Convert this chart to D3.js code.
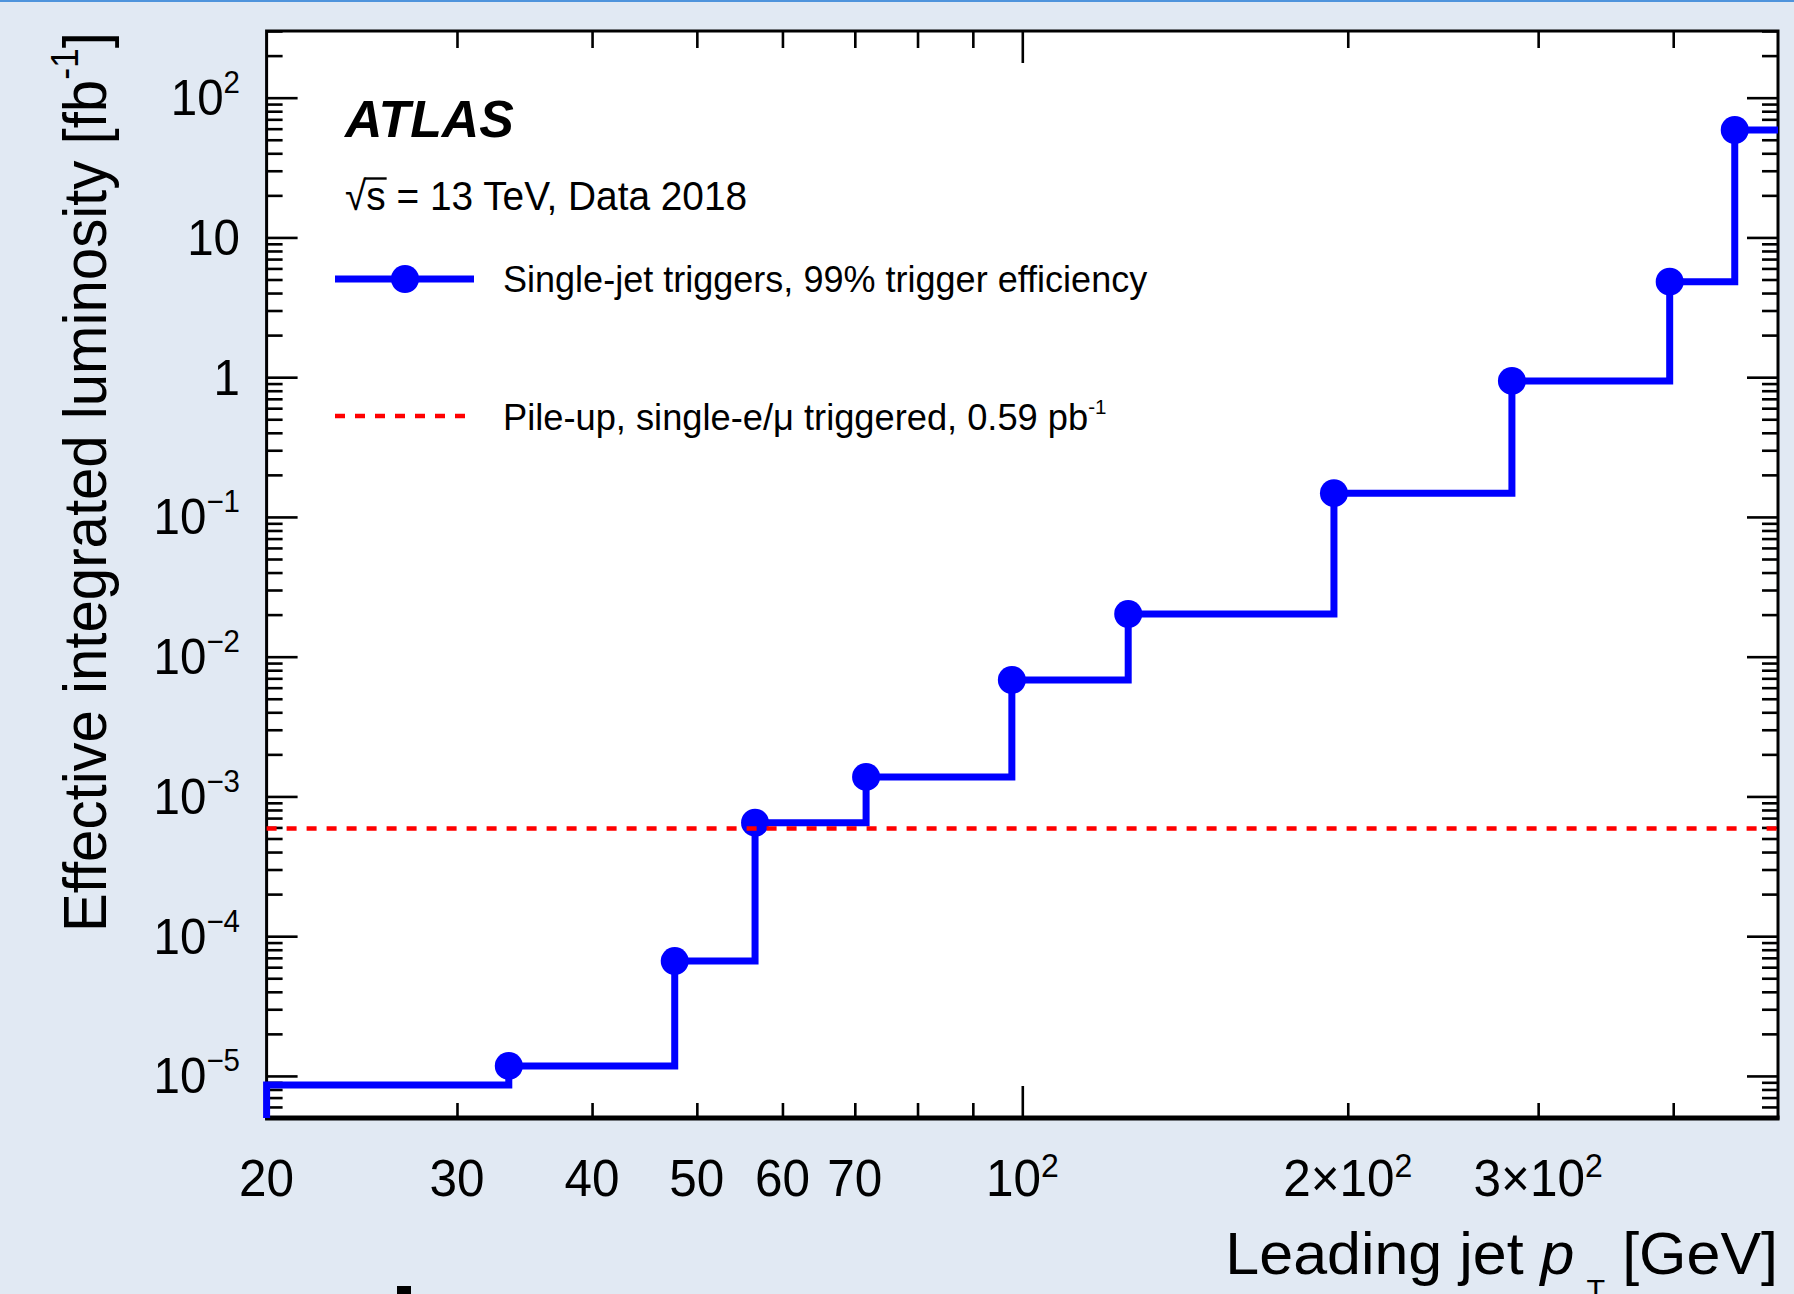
<!DOCTYPE html>
<html><head><meta charset="utf-8">
<script src="https://cdn.jsdelivr.net/npm/d3@7"></script>
<style>
html,body{margin:0;padding:0;background:#e1e9f3;overflow:hidden;}
svg{display:block;}
text{font-family:"Liberation Sans",Arial,Helvetica,sans-serif;fill:#000;}
</style></head><body>
<svg id="chart" width="1794" height="1294"></svg>
<script>
// ---------------- data ----------------
const xDomain = [20, 500];
const yDomain = [5e-6, 300];
const initialPt = 20;
const initialLumi = 8.6e-6;
const triggerPt   = [33.5, 47.7, 56.6, 71.7, 97.8, 125.3, 194.2, 283.7, 397, 456];
const triggerLumi = [1.18e-5, 6.64e-5, 6.49e-4, 1.38e-3, 6.81e-3, 2.02e-2, 0.148, 0.94, 4.82, 58.7];
const pileupLumi = 5.9e-4; // fb^-1  (0.59 pb^-1)
const xMinorTicks = [30, 40, 50, 60, 70, 80, 90, 200, 300, 400];
const xMajorTicks = [100];
const xTickLabelValues = [20, 30, 40, 50, 60, 70, 100, 200, 300];
const xTickLabelBase   = ["20", "30", "40", "50", "60", "70", "10", "2\u00d710", "3\u00d710"];
const xTickLabelSup    = ["", "", "", "", "", "", "2", "2", "2"];
const yTickLabelValues = [100, 10, 1, 0.1, 0.01, 0.001, 1e-4, 1e-5];
const yTickLabelBase   = ["10", "10", "1", "10", "10", "10", "10", "10"];
const yTickLabelSup    = ["2", "", "", "\u22121", "\u22122", "\u22123", "\u22124", "\u22125"];
const legendLabels = ["Single-jet triggers, 99% trigger efficiency", "Pile-up, single-e/\u03bc triggered, 0.59 pb"];

// ---------------- layout ----------------
const W = 1794, H = 1294;
const L = 266.6, R = 1778, T = 31, B = 1118;
const svg = d3.select("#chart");
svg.append("rect").attr("width", W).attr("height", H).attr("fill", "#e1e9f3");
svg.append("line").attr("x1", 0).attr("x2", W).attr("y1", 1).attr("y2", 1)
   .attr("stroke", "#4f94dc").attr("stroke-width", 2);
svg.append("rect").attr("x", L).attr("y", T).attr("width", R - L).attr("height", B - T).attr("fill", "#fff");

const x = d3.scaleLog().domain(xDomain).range([L, R]);
const y = d3.scaleLog().domain(yDomain).range([B, T]);

// y ticks
const yMajor = d3.range(-5, 3).map(e => Math.pow(10, e));
const yMinor = [];
for (let e = -6; e <= 2; e++) for (let m = 2; m <= 9; m++) {
  const v = m * Math.pow(10, e);
  if (v >= yDomain[0] * 0.999 && v <= yDomain[1] * 1.001) yMinor.push(v);
}
function tickAxis(axisFn, scale, vals, size, transform) {
  const g = svg.append("g").attr("transform", transform)
    .call(axisFn(scale).tickValues(vals).tickSize(size).tickFormat(""));
  g.select(".domain").remove();
  g.selectAll(".tick line").attr("stroke", "#000").attr("stroke-width", 2.6);
  return g;
}
tickAxis(d3.axisRight, y, yMajor, 31, `translate(${L},0)`);
tickAxis(d3.axisRight, y, yMinor, 16, `translate(${L},0)`);
tickAxis(d3.axisLeft, y, yMajor, 31, `translate(${R},0)`);
tickAxis(d3.axisLeft, y, yMinor, 16, `translate(${R},0)`);
tickAxis(d3.axisTop, x, xMinorTicks, 15, `translate(0,${B})`);
tickAxis(d3.axisTop, x, xMajorTicks, 32, `translate(0,${B})`);
tickAxis(d3.axisBottom, x, xMinorTicks, 17, `translate(0,${T})`);
tickAxis(d3.axisBottom, x, xMajorTicks, 32, `translate(0,${T})`);

// frame
svg.append("rect").attr("x", L).attr("y", T).attr("width", R - L).attr("height", B - T)
  .attr("fill", "none").attr("stroke", "#000").attr("stroke-width", 3);
svg.append("line").attr("x1", L - 1.5).attr("x2", R + 1.5).attr("y1", B).attr("y2", B)
  .attr("stroke", "#000").attr("stroke-width", 5);

// data step line
const stepData = [{x: initialPt, y: yDomain[0]}, {x: initialPt, y: initialLumi}]
  .concat(triggerPt.map((p, i) => ({x: p, y: triggerLumi[i]})))
  .concat([{x: xDomain[1], y: triggerLumi[triggerLumi.length - 1]}]);
const stepLine = d3.line().x(d => x(d.x)).y(d => y(d.y)).curve(d3.curveStepAfter);
svg.append("path").datum(stepData).attr("d", stepLine)
  .attr("fill", "none").attr("stroke", "#0000ff").attr("stroke-width", 7)
  .attr("stroke-linejoin", "miter").attr("stroke-linecap", "butt");
svg.selectAll("circle.pt").data(triggerPt).enter().append("circle").attr("class", "pt")
  .attr("cx", d => x(d)).attr("cy", (d, i) => y(triggerLumi[i])).attr("r", 14).attr("fill", "#0000ff");

// pile-up line
const flat = d3.line().x(d => x(d.x)).y(d => y(d.y));
svg.append("path").datum([{x: xDomain[0], y: pileupLumi}, {x: xDomain[1], y: pileupLumi}])
  .attr("d", flat).attr("fill", "none").attr("stroke", "#ff0000").attr("stroke-width", 4.4)
  .attr("stroke-dasharray", "10,10");

// ---------------- text helper ----------------
function label(x0, y0, size, sx, anchor, parts, rot) {
  const g = svg.append("g").attr("transform",
    `translate(${x0},${y0})` + (rot ? ` rotate(${rot})` : "") + ` scale(${sx},1)`);
  const t = g.append("text").attr("x", 0).attr("y", 0).attr("font-size", size).attr("text-anchor", anchor);
  parts.forEach(p => {
    const ts = t.append("tspan").text(p.t);
    if (p.size) ts.attr("font-size", p.size);
    if (p.dy) ts.attr("dy", p.dy);
    if (p.style) ts.attr("font-style", p.style);
    if (p.weight) ts.attr("font-weight", p.weight);
  });
  return {g, t};
}

// x tick labels
xTickLabelValues.forEach((v, i) => {
  const parts = [{t: xTickLabelBase[i]}];
  if (xTickLabelSup[i]) parts.push({t: xTickLabelSup[i], size: 33, dy: -19});
  label(x(v), 1196, 51, 0.97, "middle", parts);
});
// y tick labels
yTickLabelValues.forEach((v, i) => {
  const parts = [{t: yTickLabelBase[i]}];
  if (yTickLabelSup[i]) parts.push({t: yTickLabelSup[i], size: 31, dy: -22});
  label(240, y(v) + 17.5, 50, 0.95, "end", parts);
});

// axis titles
label(R, 1274, 60, 1.016, "end", [
  {t: "Leading jet "}, {t: "p", style: "italic"}, {t: "\u2009"}, {t: "T", size: 30, dy: 26}, {t: " [GeV]", dy: -26}
]);
label(106, 32, 62, 0.938, "end", [
  {t: "Effective integrated luminosity [fb"}, {t: "-1", size: 38, dy: -28}, {t: "]", dy: 28}
], -90);

// ATLAS and sqrt(s)
label(345, 137, 51.8, 1, "start", [{t: "ATLAS", weight: "bold", style: "italic"}]);
const sq = label(345, 210, 41, 0.947, "start", [{t: "\u221a"}, {t: "s = 13 TeV, Data 2018"}]);
{
  const tn = sq.t.node();
  const x1 = tn.getEndPositionOfChar(0).x - 2;
  const x2 = tn.getEndPositionOfChar(1).x + 1;
  sq.g.append("line").attr("x1", x1).attr("x2", x2).attr("y1", -31.5).attr("y2", -31.5)
    .attr("stroke", "#000").attr("stroke-width", 2.4);
}

// legend
svg.append("line").attr("x1", 335).attr("x2", 474).attr("y1", 279).attr("y2", 279)
  .attr("stroke", "#0000ff").attr("stroke-width", 7);
svg.append("circle").attr("cx", 405).attr("cy", 279).attr("r", 14).attr("fill", "#0000ff");
svg.append("line").attr("x1", 335).attr("x2", 469).attr("y1", 416).attr("y2", 416)
  .attr("stroke", "#ff0000").attr("stroke-width", 4.4).attr("stroke-dasharray", "10,10");
label(503, 292, 37, 0.974, "start", [{t: legendLabels[0]}]);
label(503, 430, 37, 0.98, "start", [{t: legendLabels[1]}, {t: "-1", size: 21, dy: -16}]);

// stray mark at bottom edge (cropped glyph in the original)
svg.append("rect").attr("x", 397).attr("y", 1286).attr("width", 14).attr("height", 8).attr("fill", "#000");
</script>
</body></html>
